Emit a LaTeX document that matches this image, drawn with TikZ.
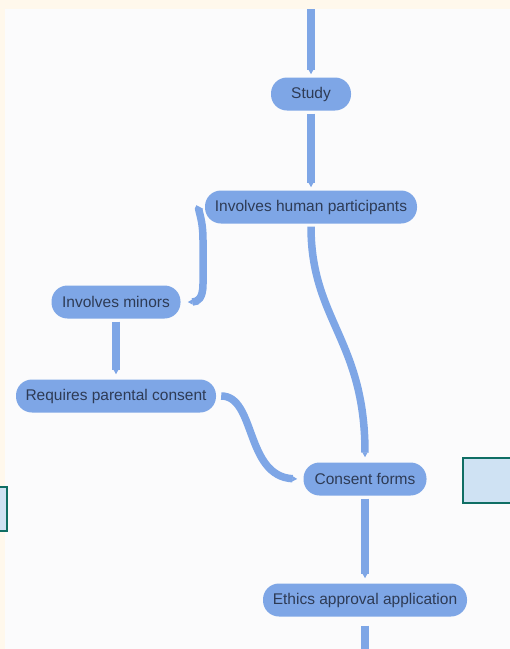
\documentclass[tikz,border=0pt]{standalone}
\usepackage{fontspec}
\setmainfont{Liberation Sans}
\usetikzlibrary{arrows.meta}
\definecolor{pagecream}{HTML}{FFF8EC}
\definecolor{canvas}{HTML}{FBFBFC}
\definecolor{flowblue}{HTML}{7EA6E6}
\definecolor{nodetext}{HTML}{2E3B55}
\definecolor{sidefill}{HTML}{CFE2F3}
\definecolor{sideedge}{HTML}{0F6E64}
\tikzset{
  stepnode/.style={shape=rectangle, rounded corners=16pt, fill=flowblue, draw=none,
    text=nodetext, font=\fontsize{15.5}{18}\selectfont,
    minimum height=33pt, inner xsep=4pt},
  flow/.style={draw=flowblue, line width=7.5pt,
    -{Triangle[width'=0pt 1, length=5pt]}},
  sidebox/.style={fill=sidefill, draw=sideedge, line width=2pt}
}
\begin{document}
\begin{tikzpicture}[x=1pt,y=-1pt]
  \useasboundingbox (0,0) rectangle (510,649);
  \clip (0,0) rectangle (510,649);
  % page background and canvas
  \fill[pagecream] (0,0) rectangle (510,649);
  \fill[canvas] (5,9) rectangle (515,654);
  % side boxes cut by the canvas edge
  \draw[sidebox] (-20,487) rectangle (7,531);
  \draw[sidebox] (463,458) rectangle (530,503);
  % nodes
  \node[stepnode, minimum width=80pt] (study) at (311,94) {Study};
  \node[stepnode, minimum width=212pt] (human) at (311,207) {Involves human participants};
  \node[stepnode, minimum width=129pt] (minors) at (116,302) {Involves minors};
  \node[stepnode, minimum width=200pt] (parent) at (116,396) {Requires parental consent};
  \node[stepnode, minimum width=123pt] (forms) at (365,479) {Consent forms};
  \node[stepnode, minimum width=204pt] (ethics) at (365,600) {Ethics approval application};
  \coordinate (topin) at (311,9);
  \coordinate (botout) at (365,660);
  % connectors
  \draw[flow, shorten >=3pt] (topin) -- (study);
  \draw[flow, shorten <=3pt, shorten >=3pt] (study) -- (human);
  \draw[flow, shorten <=3pt, shorten >=5pt] (human.south)
    .. controls (311,320) and (365,340) .. (forms.north);
  \draw[flow] ([xshift=-5pt]human.west)
    .. controls (196,208) and (203,215) .. (203,240)
    -- (203,284) .. controls (203,298) and (198,302) .. ([xshift=7pt]minors.east);
  \draw[flow, shorten <=3pt, shorten >=5pt] (minors) -- (parent);
  \draw[flow] ([xshift=5pt]parent.east)
    .. controls (256,396) and (245,476) .. ([xshift=-6pt]forms.west);
  \draw[flow, shorten <=3pt, shorten >=5pt] (forms) -- (ethics);
  \draw[draw=flowblue, line width=7.5pt, shorten <=9pt] (ethics.south) -- (botout);
\end{tikzpicture}
\end{document}
